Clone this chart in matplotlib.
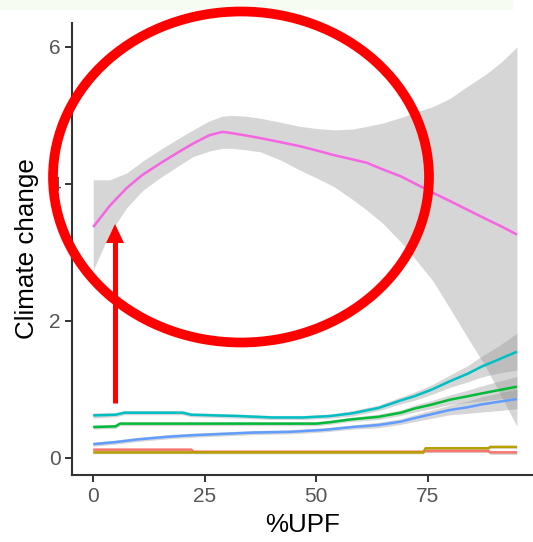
import matplotlib
matplotlib.use("Agg")
import matplotlib.pyplot as plt
from matplotlib.patches import Ellipse, Rectangle, Polygon
from matplotlib.lines import Line2D

plt.rcParams['font.family'] = ['Liberation Sans', 'DejaVu Sans']

# ---------------- data ----------------
# magenta group
x_mag = [0, 3.7, 7.5, 11, 15, 19, 22.4, 26, 29, 31.3, 34, 37.4, 42, 46.4, 50, 54, 58,
         61.3, 65, 69, 72, 76.2, 80, 84, 88, 91.5, 95]
y_mag = [3.37, 3.68, 3.94, 4.13, 4.30, 4.46, 4.59, 4.71, 4.76, 4.74, 4.71, 4.67, 4.61, 4.55,
         4.49, 4.42, 4.36, 4.31, 4.21, 4.11, 4.01, 3.87, 3.75, 3.62, 3.49, 3.38, 3.26]
hi_mag = [4.06, 4.06, 4.16, 4.33, 4.50, 4.66, 4.79, 4.92, 4.99, 5.00, 4.99, 4.96, 4.90, 4.84,
          4.81, 4.79, 4.80, 4.84, 4.89, 4.97, 5.04, 5.13, 5.25, 5.43, 5.60, 5.78, 6.00]
lo_mag = [2.74, 3.28, 3.65, 3.90, 4.09, 4.26, 4.40, 4.48, 4.52, 4.52, 4.50, 4.47, 4.35, 4.20,
          4.09, 3.96, 3.78, 3.62, 3.42, 3.15, 2.92, 2.58, 2.18, 1.75, 1.33, 0.90, 0.46]

# teal group
x_teal = [0, 5, 7, 20, 22, 33, 40, 47, 53, 58, 64, 69, 72, 76, 80, 84, 87, 91, 95]
y_teal = [0.62, 0.63, 0.66, 0.66, 0.63, 0.61, 0.59, 0.59, 0.61, 0.65, 0.73, 0.84, 0.90, 1.00,
          1.12, 1.23, 1.33, 1.44, 1.55]
hi_teal = [0.66, 0.66, 0.69, 0.69, 0.66, 0.64, 0.62, 0.62, 0.64, 0.69, 0.77, 0.89, 0.96, 1.07,
           1.21, 1.35, 1.48, 1.64, 1.82]
lo_teal = [0.58, 0.60, 0.63, 0.63, 0.60, 0.58, 0.56, 0.56, 0.58, 0.61, 0.69, 0.79, 0.84, 0.93,
           1.03, 1.11, 1.18, 1.24, 1.28]

# green group
x_green = [0, 5, 6, 50, 53, 57.5, 64, 69, 72, 76, 80, 84, 87, 91, 95]
y_green = [0.45, 0.46, 0.50, 0.50, 0.52, 0.56, 0.60, 0.66, 0.72, 0.78, 0.85, 0.90, 0.94, 0.99, 1.04]
hi_green = [0.48, 0.49, 0.53, 0.53, 0.55, 0.59, 0.64, 0.70, 0.77, 0.84, 0.92, 0.99, 1.05, 1.12, 1.19]
lo_green = [0.42, 0.43, 0.47, 0.47, 0.49, 0.53, 0.56, 0.62, 0.67, 0.72, 0.78, 0.81, 0.83, 0.86, 0.89]

# blue group
x_blue = [0, 5, 10, 17, 22, 29, 36, 44, 52, 58, 64, 69, 72, 76, 80, 84, 87, 91, 95]
y_blue = [0.20, 0.23, 0.27, 0.31, 0.33, 0.35, 0.37, 0.38, 0.41, 0.45, 0.48, 0.53, 0.58, 0.64,
          0.70, 0.74, 0.78, 0.82, 0.86]
hi_blue = [0.23, 0.26, 0.30, 0.34, 0.36, 0.38, 0.40, 0.41, 0.44, 0.48, 0.52, 0.57, 0.63, 0.70,
           0.77, 0.83, 0.89, 0.95, 1.00]
lo_blue = [0.17, 0.20, 0.24, 0.28, 0.30, 0.32, 0.34, 0.35, 0.38, 0.42, 0.44, 0.49, 0.53, 0.58,
           0.63, 0.65, 0.67, 0.69, 0.72]

# red group
x_red = [0, 22, 22.5, 74, 74.5, 88.6, 89, 95]
y_red = [0.12, 0.12, 0.09, 0.09, 0.10, 0.10, 0.08, 0.08]
hi_red = [0.14, 0.14, 0.11, 0.11, 0.12, 0.12, 0.11, 0.11]
lo_red = [0.10, 0.10, 0.07, 0.07, 0.08, 0.08, 0.05, 0.05]

# olive group
x_olive = [0, 74, 74.5, 88.6, 89, 95]
y_olive = [0.08, 0.08, 0.14, 0.14, 0.16, 0.16]
hi_olive = [0.10, 0.10, 0.16, 0.16, 0.18, 0.18]
lo_olive = [0.06, 0.06, 0.12, 0.12, 0.14, 0.14]

x_ticks = [0, 25, 50, 75]
y_ticks = [0, 2, 4, 6]
x_label = "%UPF"
y_label = "Climate change"

groups = [
    (x_red, y_red, lo_red, hi_red, "#F8766D"),
    (x_olive, y_olive, lo_olive, hi_olive, "#B79F00"),
    (x_green, y_green, lo_green, hi_green, "#00BA38"),
    (x_teal, y_teal, lo_teal, hi_teal, "#00BFC4"),
    (x_blue, y_blue, lo_blue, hi_blue, "#619CFF"),
    (x_mag, y_mag, lo_mag, hi_mag, "#F564E3"),
]

# ---------------- figure ----------------
W, H = 533, 542
fig = plt.figure(figsize=(W / 100, H / 100), dpi=100)
fig.patch.set_facecolor("white")

def fx(px):
    return px / W

def fy(py):
    return 1 - py / H

# light strip at top of the screenshot
fig.add_artist(Rectangle((0, fy(10)), fx(513), 10 / H, transform=fig.transFigure,
                         facecolor="#f7fcf2", edgecolor="none", zorder=0))

ax = fig.add_axes([fx(72), fy(475), 1 - fx(72), (475 - 23) / H])
ax.set_facecolor("white")

for xs, ys, lo, hi, col in groups:
    ax.fill_between(xs, lo, hi, color="#999999", alpha=0.4, linewidth=0)
    ax.plot(xs, ys, color=col, linewidth=1.8, solid_capstyle="butt")

ax.set_xlim(-4.75, 98.6)
ax.set_ylim(-0.25, 6.35)
ax.set_xticks(x_ticks)
ax.set_yticks(y_ticks)
for s in ["top", "right"]:
    ax.spines[s].set_visible(False)
for s in ["left", "bottom"]:
    ax.spines[s].set_color("#333333")
    ax.spines[s].set_linewidth(1.5)
ax.tick_params(axis="both", colors="#333333", length=5, width=1.4,
               labelsize=15, labelcolor="#555555")
ax.tick_params(axis="x", pad=4)
ax.tick_params(axis="y", pad=3)
ax.set_xlabel(x_label, fontsize=18.7, color="black", labelpad=5)
ax.set_ylabel(y_label, fontsize=18.7, color="black", labelpad=7)

# ---------------- red annotation ----------------
fig.add_artist(Ellipse((fx(241), fy(177)), 376 / W, 331 / H, transform=fig.transFigure,
                       facecolor="none", edgecolor="#FF0000", linewidth=7, zorder=10))
fig.add_artist(Line2D([fx(115), fx(115)], [fy(403), fy(238)], transform=fig.transFigure,
                      color="#FF0000", linewidth=3.6, solid_capstyle="butt", zorder=10))
fig.add_artist(Polygon([(fx(115), fy(224)), (fx(106), fy(243)), (fx(124), fy(243))],
                       closed=True, transform=fig.transFigure, facecolor="#FF0000",
                       edgecolor="none", zorder=10))

fig.savefig("out.png", dpi=100)
